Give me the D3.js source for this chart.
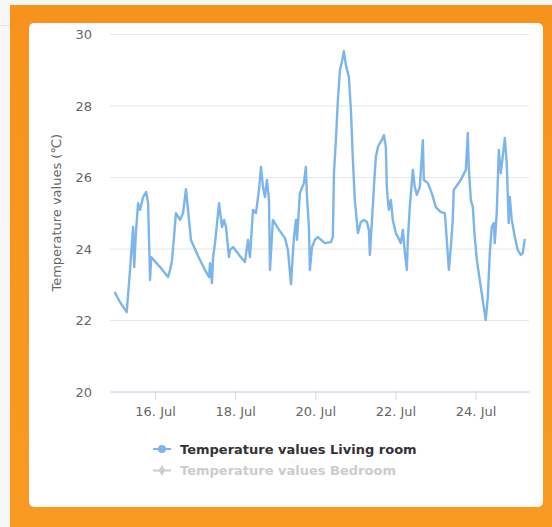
<!DOCTYPE html>
<html>
<head>
<meta charset="utf-8">
<script src="https://cdn.jsdelivr.net/npm/d3@7"></script>
<style>
  html, body { margin: 0; padding: 0; background: #f7f7f7; }
  svg { display: block; }
</style>
</head>
<body>
<svg id="chart" width="552" height="527"></svg>
<script>
// ---- Data ----
const times = [
  "07-15 00:00","07-15 03:00","07-15 07:00","07-15 09:00","07-15 10:50","07-15 11:30","07-15 12:30","07-15 13:50",
  "07-15 15:00","07-15 16:50","07-15 18:40","07-15 19:50","07-15 21:00","07-15 21:40","07-16 03:00","07-16 07:45",
  "07-16 09:00","07-16 10:10","07-16 11:20","07-16 12:30","07-16 15:00","07-16 16:45","07-16 18:30","07-16 20:20",
  "07-16 21:30","07-17 01:45","07-17 05:55","07-17 08:20","07-17 08:55","07-17 10:05","07-17 10:45","07-17 11:55",
  "07-17 14:20","07-17 16:05","07-17 17:20","07-17 18:30","07-17 20:15","07-17 20:55","07-17 22:40","07-18 02:50",
  "07-18 05:50","07-18 07:40","07-18 08:50","07-18 10:40","07-18 12:25","07-18 14:15","07-18 15:25","07-18 16:40",
  "07-18 17:50","07-18 19:00","07-18 20:15","07-18 20:50","07-18 22:35","07-19 02:15","07-19 05:50","07-19 07:35",
  "07-19 09:25","07-19 11:10","07-19 12:25","07-19 13:00","07-19 14:45","07-19 17:10","07-19 18:20","07-19 19:00",
  "07-19 20:10","07-19 20:45","07-19 22:00","07-19 23:45","07-20 01:35","07-20 05:45","07-20 09:20","07-20 10:30",
  "07-20 11:10","07-20 12:20","07-20 13:30","07-20 14:45","07-20 15:55","07-20 17:05","07-20 18:20","07-20 20:05",
  "07-20 21:20","07-20 22:30","07-20 23:40","07-21 01:30","07-21 03:15","07-21 05:05","07-21 06:55","07-21 08:05",
  "07-21 08:40","07-21 09:50","07-21 11:05","07-21 12:15","07-21 13:30","07-21 14:40","07-21 15:50","07-21 17:05",
  "07-21 18:15","07-21 18:50","07-21 19:25","07-21 20:05","07-21 21:15","07-21 22:25","07-22 00:15","07-22 03:15",
  "07-22 04:25","07-22 05:40","07-22 06:50","07-22 07:25","07-22 08:35","07-22 10:25","07-22 11:35","07-22 12:50",
  "07-22 14:35","07-22 16:25","07-22 17:00","07-22 19:25","07-22 21:45","07-23 00:10","07-23 03:10","07-23 05:35",
  "07-23 06:45","07-23 08:00","07-23 09:10","07-23 10:20","07-23 10:55","07-23 12:10","07-23 15:10","07-23 18:10",
  "07-23 19:20","07-23 19:55","07-23 21:10","07-23 22:20","07-23 23:30","07-24 00:45","07-24 02:30","07-24 04:55",
  "07-24 06:05","07-24 07:20","07-24 08:30","07-24 09:40","07-24 10:55","07-24 11:30","07-24 12:40","07-24 13:55",
  "07-24 15:05","07-24 16:15","07-24 17:30","07-24 18:40","07-24 19:50","07-24 20:30","07-24 21:40","07-24 23:30",
  "07-25 01:15","07-25 03:05","07-25 04:15","07-25 05:25"
];
const livingRoom = [
  22.76,22.5,22.22,23.4,24.6,23.48,24.43,25.27,
  25.08,25.44,25.58,25.27,23.12,23.76,23.48,23.2,
  23.4,23.68,24.32,24.99,24.8,24.99,25.66,24.8,
  24.24,23.79,23.4,23.2,23.59,23.03,23.76,24.15,
  25.27,24.6,24.8,24.6,23.76,23.96,24.04,23.79,
  23.62,24.24,23.76,25.08,24.99,25.64,26.28,25.72,
  25.44,25.92,25.36,23.4,24.8,24.52,24.29,23.96,
  23.0,24.32,24.8,24.24,25.55,25.83,26.28,25.44,
  24.6,23.4,24.04,24.24,24.32,24.15,24.18,24.32,
  26.11,27.03,28.15,28.99,29.22,29.52,29.13,28.8,
  27.87,26.48,25.36,24.43,24.74,24.8,24.74,24.52,
  23.82,24.71,25.72,26.56,26.84,26.95,27.03,27.17,
  26.84,25.72,25.36,25.08,25.36,24.8,24.43,24.15,
  24.52,23.87,23.4,24.24,25.16,26.2,25.72,25.5,
  25.72,27.03,25.92,25.83,25.55,25.16,25.02,24.99,
  24.24,23.4,24.04,24.8,25.64,25.72,25.92,26.2,
  27.23,26.28,25.36,25.16,24.32,23.68,23.12,22.36,
  22.0,22.64,23.87,24.6,24.71,24.15,24.99,26.76,
  26.11,26.56,27.09,26.39,24.71,25.44,24.8,24.32,
  23.96,23.82,23.87,24.24
];
const bedroom = []; // series hidden in the legend
const yTicks = [20, 22, 24, 26, 28, 30];
const xTickDates = ["07-16 00:00", "07-18 00:00", "07-20 00:00", "07-22 00:00", "07-24 00:00"];
const xTickLabels = ["16. Jul", "18. Jul", "20. Jul", "22. Jul", "24. Jul"];
const xDomain = ["07-14 21:00", "07-25 08:00"];
const yDomain = [20, 30];
const seriesNames = ["Temperature values Living room", "Temperature values Bedroom"];
const yTitle = "Temperature values (℃)";

// ---- Drawing ----
const parse = d3.timeParse("%Y-%m-%d %H:%M");
const P = s => parse("2017-" + s);
const data = times.map((t, i) => ({ t: P(t), v: livingRoom[i] }));

const svg = d3.select("#chart");
const defs = svg.append("defs");
const og = defs.append("linearGradient").attr("id", "og").attr("x1", 0).attr("y1", 0).attr("x2", 0).attr("y2", 1);
og.append("stop").attr("offset", "0%").attr("stop-color", "#f7931c");
og.append("stop").attr("offset", "100%").attr("stop-color", "#f89a22");

// page background and orange frame
svg.append("rect").attr("x", 0).attr("y", 0).attr("width", 552).attr("height", 527).attr("fill", "#f7f7f7");
svg.append("line").attr("x1", 0).attr("x2", 11).attr("y1", 25.5).attr("y2", 25.5).attr("stroke", "#e4e4e4");
svg.append("rect").attr("x", 10).attr("y", 5).attr("width", 542).attr("height", 522).attr("fill", "url(#og)");
svg.append("rect").attr("x", 29).attr("y", 23).attr("width", 514).attr("height", 484).attr("rx", 5)
  .attr("fill", "#ffffff");

const plot = { left: 110, right: 529, top: 34, bottom: 391.5 };
const x = d3.scaleTime().domain(xDomain.map(P)).range([plot.left, plot.right]);
const y = d3.scaleLinear().domain(yDomain).range([plot.bottom, plot.top]);

const FONT = "'DejaVu Sans', Verdana, sans-serif";

// gridlines + y labels
const yAxis = d3.axisLeft(y).tickValues(yTicks).tickSize(0).tickPadding(0).tickFormat(d3.format("d"));
const gy = svg.append("g").attr("transform", `translate(${plot.left},0)`).call(yAxis);
gy.select(".domain").remove();
gy.selectAll("text").attr("x", -18).attr("dy", "0.35em")
  .attr("fill", "#666666").style("font-family", FONT).style("font-size", "13px");
gy.selectAll(".tick").append("line")
  .attr("x1", 0).attr("x2", plot.right - plot.left)
  .attr("stroke", "#e6e6e6").attr("stroke-width", 1);

// x axis
const xAxis = d3.axisBottom(x).tickValues(xTickDates.map(P))
  .tickFormat((d, i) => xTickLabels[i]).tickSize(9).tickPadding(6).tickSizeOuter(0);
const gx = svg.append("g").attr("transform", `translate(0,${plot.bottom})`).call(xAxis);
gx.select(".domain").attr("stroke", "#ccd6eb");
gx.selectAll(".tick line").attr("stroke", "#ccd6eb");
gx.selectAll("text").attr("fill", "#666666").style("font-family", FONT).style("font-size", "13px");

// y title
svg.append("text")
  .attr("transform", `translate(61,${(plot.top + plot.bottom) / 2}) rotate(-90)`)
  .attr("text-anchor", "middle")
  .attr("fill", "#666666").style("font-family", FONT).style("font-size", "13px")
  .text(yTitle);

// line
defs.append("clipPath").attr("id", "clip").append("rect")
  .attr("x", plot.left).attr("y", plot.top - 5).attr("width", plot.right - plot.left).attr("height", plot.bottom - plot.top + 10);
const line = d3.line().x(d => x(d.t)).y(d => y(d.v));
svg.append("path").datum(data).attr("clip-path", "url(#clip)")
  .attr("d", line).attr("fill", "none").attr("stroke", "#7cb5ec")
  .attr("stroke-width", 2.4).attr("stroke-linejoin", "round").attr("stroke-linecap", "round");

// legend
const legend = svg.append("g").attr("transform", "translate(153,449)");
const colors = ["#7cb5ec", "#cccccc"];
const textColors = ["#333333", "#cccccc"];
seriesNames.forEach((name, i) => {
  const g = legend.append("g").attr("transform", `translate(0,${i * 21.5})`);
  g.append("line").attr("x1", 0).attr("x2", 18).attr("y1", 0).attr("y2", 0)
    .attr("stroke", colors[i]).attr("stroke-width", 2);
  if (i === 0) {
    g.append("circle").attr("cx", 9).attr("cy", 0).attr("r", 4).attr("fill", colors[i]);
  } else {
    g.append("path").attr("d", d3.symbol().type(d3.symbolDiamond).size(36)()).attr("transform", "translate(9,0)")
      .attr("fill", colors[i]);
  }
  g.append("text").attr("x", 27).attr("y", 0).attr("dy", "0.35em")
    .attr("fill", textColors[i]).style("font-family", FONT).style("font-size", "13px").style("font-weight", "bold")
    .text(name);
});
</script>
</body>
</html>
